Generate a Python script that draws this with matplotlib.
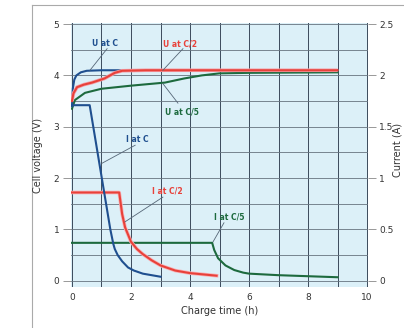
import matplotlib
matplotlib.use("Agg")
import matplotlib.pyplot as plt
from matplotlib.lines import Line2D

# ---- data ----
# Voltage curves (h, V)
u_c_t = [0, 0.03, 0.08, 0.15, 0.3, 0.5, 1.0, 2.0, 9.0]
u_c_v = [3.4, 3.75, 3.92, 4.0, 4.06, 4.09, 4.1, 4.1, 4.1]
u_c2_t = [0, 0.05, 0.17, 0.4, 0.68, 1.1, 1.45, 1.7, 2.5, 9.0]
u_c2_v = [3.5, 3.65, 3.77, 3.82, 3.86, 3.94, 4.05, 4.09, 4.1, 4.1]
u_c5_t = [0, 0.1, 0.44, 1.0, 2.0, 3.15, 3.8, 4.4, 5.0, 6.0, 9.0]
u_c5_v = [3.35, 3.52, 3.66, 3.74, 3.8, 3.86, 3.94, 4.0, 4.04, 4.05, 4.06]
# Current curves (h, A)
i_c_t = [0, 0.6, 1.3, 1.4, 1.45, 1.55, 1.7, 1.9, 2.1, 2.4, 3.0]
i_c_a = [1.71, 1.71, 0.5, 0.36, 0.31, 0.25, 0.19, 0.13, 0.10, 0.07, 0.04]
i_c2_t = [0, 1.6, 1.7, 1.8, 2.0, 2.2, 2.4, 2.7, 3.0, 3.5, 4.0, 4.9]
i_c2_a = [0.86, 0.86, 0.65, 0.52, 0.38, 0.31, 0.26, 0.2, 0.15, 0.10, 0.075, 0.05]
i_c5_t = [0, 4.75, 4.82, 4.95, 5.2, 5.5, 5.8, 6.0, 7.0, 8.0, 9.0]
i_c5_a = [0.37, 0.37, 0.30, 0.22, 0.15, 0.105, 0.08, 0.07, 0.055, 0.045, 0.035]

x_ticks = [0, 2, 4, 6, 8, 10]
v_ticks = [0, 1, 2, 3, 4, 5]
a_ticks = [0, 0.5, 1, 1.5, 2, 2.5]
a_labels = ["0", "0.5", "1", "1.5", "2", "2.5"]

BLUE = "#1f4f8f"
RED = "#e8413a"
GREEN = "#1d6a3e"
GRID = "#3b4a5c"
TXT = "#333333"
LEAD = "#556677"

fig = plt.figure(figsize=(4.04, 3.28), dpi=100)
fig.patch.set_facecolor("white")
ax = fig.add_axes([70.5/404, 1-287/328, (368-70.5)/404, (287-22.5)/328])
ax.set_facecolor("#dcf0f8")
ax.set_xlim(-0.05, 10.03)
ax.set_ylim(-0.12, 5.03)
for s in ax.spines.values():
    s.set_visible(False)

# grid
for xv in range(0, 11):
    ax.axvline(xv, color=GRID, lw=0.7, zorder=1)
for k in range(0, 11):
    ax.axhline(k*0.5, color="#66737f", lw=0.6, zorder=1)

ax.set_xticks(x_ticks)
ax.set_xticklabels([str(t) for t in x_ticks])
ax.set_yticks(v_ticks)
ax.tick_params(axis="x", length=0, pad=4, labelsize=6.5, colors=TXT)
ax.tick_params(axis="y", length=6, width=0.6, color="#888888", pad=2, labelsize=6.5, labelcolor=TXT)

ax2 = ax.twinx()
ax2.set_ylim(-0.06, 2.515)
for s in ax2.spines.values():
    s.set_visible(False)
ax2.set_yticks(a_ticks)
ax2.set_yticklabels(a_labels)
ax2.tick_params(axis="y", length=6, width=0.6, color="#888888", pad=2, labelsize=6.5, labelcolor=TXT)

# curves
lw = 1.5
ax.plot(u_c5_t, u_c5_v, color=GREEN, lw=lw, zorder=3)
ax.plot(u_c_t, u_c_v, color=BLUE, lw=lw, zorder=4)
ax.plot(u_c2_t, u_c2_v, color="#f4a0a8", lw=2.6, zorder=4.5, solid_capstyle="butt")
ax.plot(u_c2_t, u_c2_v, color=RED, lw=lw, zorder=5)
ax2.plot(i_c5_t, i_c5_a, color=GREEN, lw=lw, zorder=3)
ax2.plot(i_c2_t, i_c2_a, color="#f8b0b4", lw=2.6, zorder=4)
ax2.plot(i_c2_t, i_c2_a, color=RED, lw=lw, zorder=5)
ax2.plot(i_c_t, i_c_a, color=BLUE, lw=lw, zorder=6)

# annotations (voltage coordinates)
notes = [
    ("U at C", (1.12, 4.62), (1.19, 4.52), (0.61, 4.10), BLUE),
    ("U at C/2", (3.66, 4.62), (3.76, 4.52), (3.08, 4.10), RED),
    ("U at C/5", (3.73, 3.28), (3.59, 3.46), (3.08, 3.84), GREEN),
    ("I at C", (2.2, 2.76), (2.14, 2.64), (1.02, 2.29), BLUE),
    ("I at C/2", (3.22, 1.75), (3.08, 1.63), (1.80, 1.15), RED),
    ("I at C/5", (5.32, 1.24), (5.15, 1.13), (4.78, 0.76), GREEN),
]
for text, pt, a, b, col in notes:
    ax2.text(pt[0], pt[1], text, color=col, fontsize=5.5, fontweight="bold",
             ha="center", va="center", zorder=8, transform=ax.transData)
    ax2.plot([a[0], b[0]], [a[1], b[1]], color=LEAD, lw=0.6, zorder=7,
             transform=ax.transData)

fig.text(38/404, 1-155/328, "Cell voltage (V)", rotation=90, ha="center", va="center", fontsize=7, color=TXT)
fig.text(398/404, 1-150/328, "Current (A)", rotation=90, ha="center", va="center", fontsize=7, color=TXT)
fig.text(220/404, 1-311/328, "Charge time (h)", ha="center", va="center", fontsize=7, color=TXT)

# frame lines
fig.add_artist(Line2D([32/404, 32/404], [0, 1-5/328], color="#aaaaaa", lw=0.8))
fig.add_artist(Line2D([32/404, 1], [1-5/328, 1-5/328], color="#aaaaaa", lw=0.8))

fig.savefig("out.png", dpi=100)
